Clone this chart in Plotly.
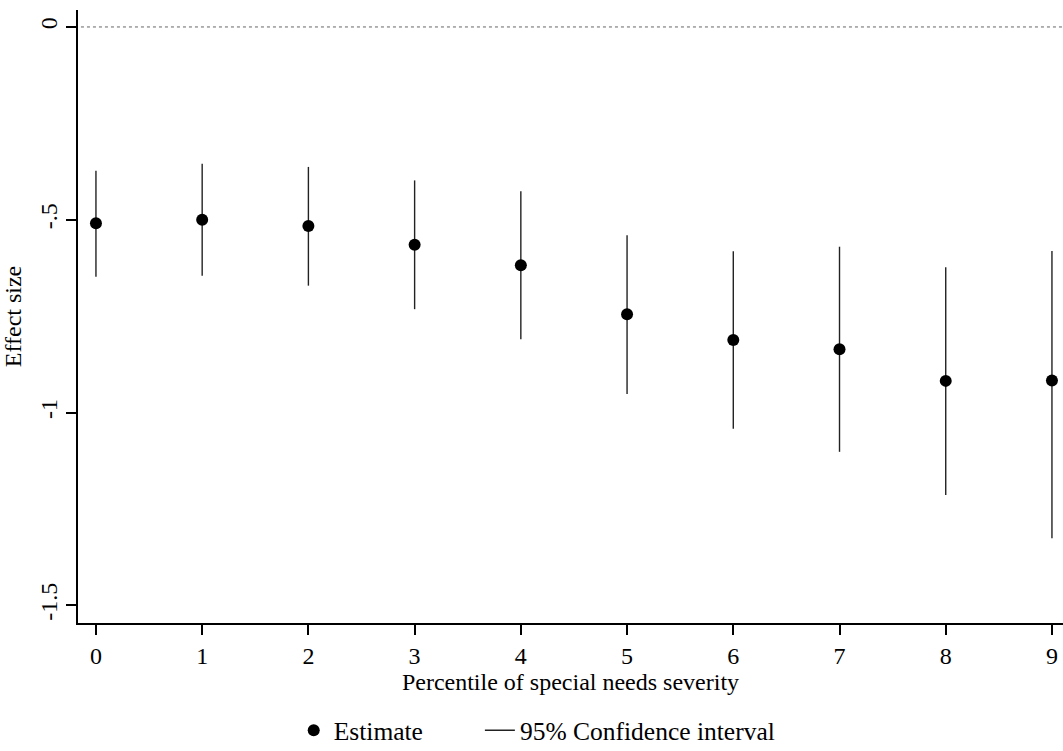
import plotly.graph_objects as go

percentiles = [0, 1, 2, 3, 4, 5, 6, 7, 8, 9]
estimate = [-0.509, -0.500, -0.516, -0.565, -0.618, -0.745, -0.812, -0.836, -0.918, -0.917]
ci_low = [-0.648, -0.645, -0.671, -0.732, -0.810, -0.952, -1.042, -1.102, -1.214, -1.326]
ci_high = [-0.373, -0.355, -0.363, -0.398, -0.426, -0.540, -0.582, -0.570, -0.623, -0.581]

y_tickvals = [0, -0.5, -1, -1.5]
y_ticktext = ["0", "-.5", "-1", "-1.5"]

FONT = "Liberation Serif, Times New Roman, serif"

ci_x, ci_y = [], []
for x, lo, hi in zip(percentiles, ci_low, ci_high):
    ci_x += [x, x, None]
    ci_y += [lo, hi, None]

fig = go.Figure()
fig.add_trace(go.Scatter(
    x=ci_x, y=ci_y, mode="lines", name="95% Confidence interval",
    line=dict(color="#222222", width=1.4), cliponaxis=False, legend="legend2",
))
fig.add_trace(go.Scatter(
    x=percentiles, y=estimate, mode="markers", name="Estimate",
    marker=dict(color="black", size=12), cliponaxis=False, legend="legend",
))

fig.add_shape(type="line", xref="paper", yref="y", x0=0.003, x1=1, y0=0, y1=0,
              line=dict(color="#666666", width=1, dash="dot"), layer="below")

fig.update_layout(
    width=1063, height=751,
    margin=dict(l=78, r=0, t=10, b=128, autoexpand=False),
    paper_bgcolor="white", plot_bgcolor="white",
    font=dict(family=FONT, size=24, color="black"),
    showlegend=True,
    legend=dict(orientation="h", x=0.219, xanchor="left", yref="container",
                y=0.027, yanchor="middle", font=dict(size=25.5)),
    legend2=dict(orientation="h", x=0.408, xanchor="left", yref="container",
                 y=0.027, yanchor="middle", font=dict(size=25.5)),
    xaxis=dict(
        range=[-0.169, 9.104], tickmode="array", tickvals=percentiles,
        showgrid=False, zeroline=False, showline=True, linecolor="black", linewidth=1.5,
        ticks="outside", ticklen=10, tickwidth=1.5, tickcolor="black",
        tickfont=dict(size=24), automargin=False,
        title=dict(text="Percentile of special needs severity", font=dict(size=24), standoff=2),
    ),
    yaxis=dict(
        range=[-1.546, 0.044], tickmode="array", tickvals=y_tickvals, ticktext=y_ticktext,
        showgrid=False, zeroline=False, showline=True, linecolor="black", linewidth=1.5,
        ticks="outside", ticklen=10, tickwidth=1.5, tickcolor="black",
        tickangle=-90, tickfont=dict(size=24), automargin=False,
        title=dict(text="Effect size", font=dict(size=24), standoff=10),
    ),
)

fig.write_html(
    "out.html",
    config={"displayModeBar": False},
    post_script=(
        "var s=document.documentElement.style;s.margin='0';s.padding='0';s.overflow='hidden';s.height='751px';"
        "var b=document.body.style;b.margin='0';b.padding='0';b.overflow='hidden';b.height='751px';"
    ),
)
